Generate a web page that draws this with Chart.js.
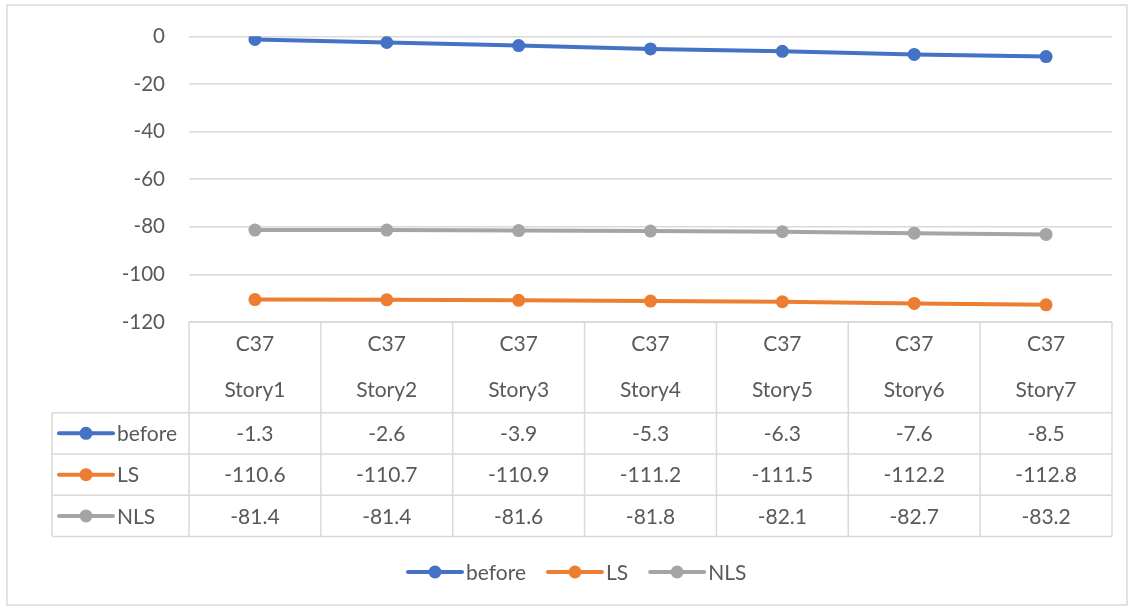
<!DOCTYPE html>
<html>
<head>
<meta charset="utf-8">
<script src="https://cdn.jsdelivr.net/npm/chart.js@4.4.1/dist/chart.umd.min.js"></script>
<style>
  html, body { margin: 0; padding: 0; background: #fff; }
  #wrap { width: 1132px; height: 608px; position: relative; }
</style>
</head>
<body>
<div id="wrap"><canvas id="myChart" width="1132" height="608"></canvas></div>
<script>
const ctx = document.getElementById('myChart');

// categories (two header lines) and series
const element = ['C37', 'C37', 'C37', 'C37', 'C37', 'C37', 'C37'];
const stories = ['Story1', 'Story2', 'Story3', 'Story4', 'Story5', 'Story6', 'Story7'];
const before = [-1.3, -2.6, -3.9, -5.3, -6.3, -7.6, -8.5];
const ls = [-110.6, -110.7, -110.9, -111.2, -111.5, -112.2, -112.8];
const nls = [-81.4, -81.4, -81.6, -81.8, -82.1, -82.7, -83.2];
const seriesNames = ['before', 'LS', 'NLS'];
const seriesColors = ['#4472C4', '#ED7D31', '#A5A5A5'];

const FONT = 'Lato, "Noto Sans", sans-serif';
const TEXT = '#595959';
const GRID = '#D9D9D9';

function legendKey(c, x, y, color) {
    c.strokeStyle = color;
    c.lineWidth = 4;
    c.lineCap = 'round';
    c.beginPath();
    c.moveTo(x, y);
    c.lineTo(x + 54, y);
    c.stroke();
    c.fillStyle = color;
    c.beginPath();
    c.arc(x + 27, y, 6.5, 0, Math.PI * 2);
    c.fill();
}

// data table + bottom legend + outer border
const dataTable = {
    id: 'dataTable',
    afterDraw(chart) {
        const c = chart.ctx;
        const xs = chart.scales.x;
        const area = chart.chartArea;
        const n = stories.length;
        const colW = (area.right - area.left) / n;
        const top = area.bottom;
        const headBottom = top + 90.7;
        const rowH = 41.3;
        const tableLeft = 52;
        const rows = [before, ls, nls];

        c.save();
        c.strokeStyle = GRID;
        c.lineWidth = 1.5;
        // header box
        c.beginPath();
        c.moveTo(area.left, top);
        c.lineTo(area.right, top);
        for (let i = 0; i <= n; i++) {
            const x = area.left + i * colW;
            c.moveTo(x, top);
            c.lineTo(x, headBottom + rowH * 3);
        }
        for (let r = 0; r <= 3; r++) {
            const y = headBottom + r * rowH;
            c.moveTo(tableLeft, y);
            c.lineTo(area.right, y);
        }
        c.moveTo(tableLeft, headBottom);
        c.lineTo(tableLeft, headBottom + rowH * 3);
        c.stroke();

        c.font = '21px ' + FONT;
        c.fillStyle = TEXT;
        c.textAlign = 'center';
        c.textBaseline = 'middle';
        for (let i = 0; i < n; i++) {
            const x = xs.getPixelForValue(i);
            c.fillText(element[i], x, top + 22);
            c.fillText(stories[i], x, top + 68);
            rows.forEach((vals, r) => {
                c.fillText(vals[i].toFixed(1), x, headBottom + r * rowH + rowH / 2 + 1);
            });
        }

        // series keys in the table
        c.textAlign = 'left';
        rows.forEach((vals, r) => {
            const y = headBottom + r * rowH + rowH / 2;
            legendKey(c, 59, y, seriesColors[r]);
            c.fillStyle = TEXT;
            c.fillText(seriesNames[r], 117, y + 1);
        });

        // bottom legend
        const legendY = 572;
        let lx = 408;
        seriesNames.forEach((name, r) => {
            legendKey(c, lx, legendY, seriesColors[r]);
            c.fillStyle = TEXT;
            c.fillText(name, lx + 58, legendY + 1);
            lx += 58 + c.measureText(name).width + 22;
        });

        // outer border
        c.strokeStyle = GRID;
        c.lineWidth = 1.5;
        c.strokeRect(7, 5, 1120, 600);
        c.restore();
    }
};

new Chart(ctx, {
    type: 'line',
    data: {
        labels: stories,
        datasets: [before, ls, nls].map((vals, i) => ({
            label: seriesNames[i],
            data: vals,
            borderColor: seriesColors[i],
            backgroundColor: seriesColors[i],
            borderWidth: 4,
            pointRadius: 6.5,
            pointHoverRadius: 6.5,
            pointBorderWidth: 0,
            tension: 0
        }))
    },
    options: {
        responsive: false,
        animation: false,
        layout: { padding: { top: 34, right: 20, bottom: 286, left: 0 } },
        plugins: {
            legend: { display: false },
            tooltip: { enabled: false }
        },
        scales: {
            x: { type: 'category', offset: true, display: false },
            y: {
                min: -120,
                max: 0,
                ticks: {
                    stepSize: 20,
                    padding: 24,
                    color: TEXT,
                    font: { family: FONT, size: 20.5 }
                },
                grid: { color: GRID, lineWidth: 1.5, drawTicks: false },
                border: { display: false },
                afterFit(scale) { scale.width = 189; }
            }
        }
    },
    plugins: [dataTable]
});
</script>
</body>
</html>
